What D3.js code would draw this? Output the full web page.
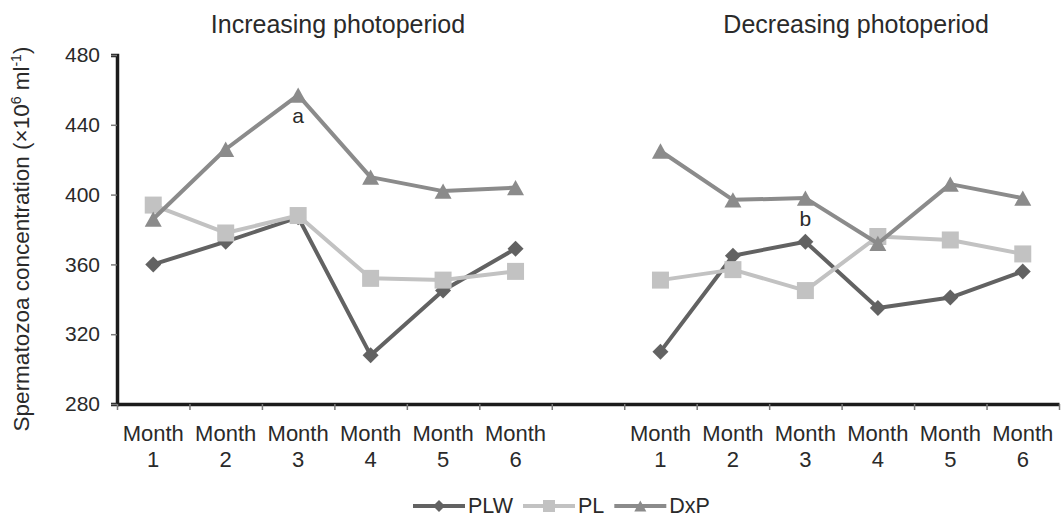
<!DOCTYPE html>
<html>
<head>
<meta charset="utf-8">
<script src="https://cdn.jsdelivr.net/npm/d3@7/dist/d3.min.js"></script>
<style>
  html, body { margin: 0; padding: 0; background: #ffffff; }
  svg { display: block; font-family: "Liberation Sans", Arial, sans-serif; }
</style>
</head>
<body>
<svg id="chart" width="1062" height="519"></svg>
<script>
// Month labels shared by both photoperiod groups
const months = ["1", "2", "3", "4", "5", "6"];
const monthWord = "Month";
const phases = ["Increasing photoperiod", "Decreasing photoperiod"];

// Spermatozoa concentration (×10^6 ml^-1), increasing photoperiod
const plwIncreasing = [360, 373, 387, 308, 345, 369];
const plIncreasing  = [394, 378, 388, 352, 351, 356];
const dxpIncreasing = [386, 426, 457, 410, 402, 404];

// Spermatozoa concentration (×10^6 ml^-1), decreasing photoperiod
const plwDecreasing = [310, 365, 373, 335, 341, 356];
const plDecreasing  = [351, 357, 345, 376, 374, 366];
const dxpDecreasing = [425, 397, 398, 372, 406, 398];

const seriesNames = ["PLW", "PL", "DxP"];
const yTicks = [280, 320, 360, 400, 440, 480];

// Significance letters placed under the DxP point of month 3
const letters = ["a", "b"];

const svg = d3.select("#chart");

// 13 equal slots: 6 months, one empty slot, 6 months
const slotCount = months.length * 2 + 1;
const x = d3.scaleLinear().domain([0, slotCount]).range([117, 1059]);
const y = d3.scaleLinear().domain([280, 480]).range([404, 55]);

const slotOf = (phase, i) => phase === 0 ? i + 0.5 : months.length + 1 + i + 0.5;

const colors = { PLW: "#626262", PL: "#c2c2c2", DxP: "#8b8b8b" };

// Marker shapes drawn around their bounding-box centre
const diamond = {
  draw(ctx, s) {
    const r = s / 2;
    ctx.moveTo(0, -r); ctx.lineTo(r, 0); ctx.lineTo(0, r); ctx.lineTo(-r, 0); ctx.closePath();
  }
};
const square = {
  draw(ctx, s) {
    const r = s / 2;
    ctx.moveTo(-r, -r); ctx.lineTo(r, -r); ctx.lineTo(r, r); ctx.lineTo(-r, r); ctx.closePath();
  }
};
const triangle = {
  draw(ctx, s) {
    const w = s / 2, h = s * 0.45;
    ctx.moveTo(0, -h); ctx.lineTo(w, h); ctx.lineTo(-w, h); ctx.closePath();
  }
};
const shapes = { PLW: [diamond, 16], PL: [square, 17], DxP: [triangle, 17] };

const data = {
  PLW: [plwIncreasing, plwDecreasing],
  PL:  [plIncreasing,  plDecreasing],
  DxP: [dxpIncreasing, dxpDecreasing]
};

// ---- Axes ----
const yAxis = d3.axisLeft(y).tickValues(yTicks).tickSize(6).tickPadding(11).tickFormat(d3.format("d"));
const gy = svg.append("g").attr("transform", `translate(${x(0)},0)`).call(yAxis);
gy.select(".domain").attr("stroke", "#1c1c1c").attr("stroke-width", 3.5);
gy.selectAll(".tick line").attr("stroke", "#7a7a7a").attr("stroke-width", 1.5);
gy.selectAll(".tick text").attr("font-size", 21).attr("fill", "#2a2a2a")
  .attr("font-family", "Liberation Sans, Arial, sans-serif");

const xAxis = d3.axisBottom(x).tickValues(d3.range(slotCount + 1)).tickSize(6).tickFormat("").tickSizeOuter(0);
const gx = svg.append("g").attr("transform", `translate(0,${y(280)})`).call(xAxis);
gx.select(".domain").attr("stroke", "#1c1c1c").attr("stroke-width", 3.5);
gx.selectAll(".tick line").attr("stroke", "#7a7a7a").attr("stroke-width", 1.5);

// Two-line month labels
phases.forEach((p, pi) => {
  months.forEach((m, i) => {
    const t = svg.append("text")
      .attr("text-anchor", "middle")
      .attr("font-size", 22)
      .attr("fill", "#2a2a2a");
    t.append("tspan").attr("x", x(slotOf(pi, i))).attr("y", y(280) + 37).text(monthWord);
    t.append("tspan").attr("x", x(slotOf(pi, i))).attr("y", y(280) + 63).text(m);
  });
});

// Group titles
const titleSlots = [3.05, 10.2];
phases.forEach((p, pi) => {
  svg.append("text")
    .attr("x", x(titleSlots[pi]))
    .attr("y", 33)
    .attr("text-anchor", "middle")
    .attr("font-size", 25)
    .attr("fill", "#2a2a2a")
    .text(p);
});

// Y axis title
const yLabel = svg.append("text")
  .attr("transform", "translate(29,239) rotate(-90)")
  .attr("text-anchor", "middle")
  .attr("font-size", 22.5)
  .attr("fill", "#2a2a2a");
yLabel.append("tspan").text("Spermatozoa concentration (×10");
yLabel.append("tspan").attr("font-size", 14).attr("dy", -8).text("6");
yLabel.append("tspan").attr("dy", 8).text(" ml");
yLabel.append("tspan").attr("font-size", 14).attr("dy", -8).text("-1");
yLabel.append("tspan").attr("dy", 8).text(")");

// ---- Series: line and markers per photoperiod group ----
const line = d3.line().x(d => x(d.slot)).y(d => y(d.v));

seriesNames.forEach(name => {
  data[name].forEach((vals, pi) => {
    const pts = vals.map((v, i) => ({ slot: slotOf(pi, i), v }));
    svg.append("path")
      .datum(pts)
      .attr("d", line)
      .attr("fill", "none")
      .attr("stroke", colors[name])
      .attr("stroke-width", 4)
      .attr("stroke-linejoin", "round");
    const [shape, size] = shapes[name];
    svg.append("g").selectAll("path")
      .data(pts)
      .join("path")
      .attr("transform", d => `translate(${x(d.slot)},${y(d.v)})`)
      .attr("d", d3.symbol().type(shape).size(size))
      .attr("fill", colors[name]);
  });
});

// Significance letters
letters.forEach((l, pi) => {
  const v = data.DxP[pi][2];
  svg.append("text")
    .attr("x", x(slotOf(pi, 2)))
    .attr("y", y(v) + 28)
    .attr("text-anchor", "middle")
    .attr("font-size", 21)
    .attr("fill", "#2a2a2a")
    .text(l);
});

// ---- Legend ----
let lx = 413;
const ly = 506;
seriesNames.forEach(name => {
  const g = svg.append("g");
  g.append("line")
    .attr("x1", lx).attr("x2", lx + 52)
    .attr("y1", ly).attr("y2", ly)
    .attr("stroke", colors[name]).attr("stroke-width", 4);
  const [shape] = shapes[name];
  g.append("path")
    .attr("transform", `translate(${lx + 26},${ly})`)
    .attr("d", d3.symbol().type(shape).size(12))
    .attr("fill", colors[name]);
  const t = g.append("text")
    .attr("x", lx + 55)
    .attr("y", ly + 7)
    .attr("font-size", 21.5)
    .attr("fill", "#2a2a2a")
    .text(name);
  lx += 55 + t.node().getComputedTextLength() + 10;
});
</script>
</body>
</html>
